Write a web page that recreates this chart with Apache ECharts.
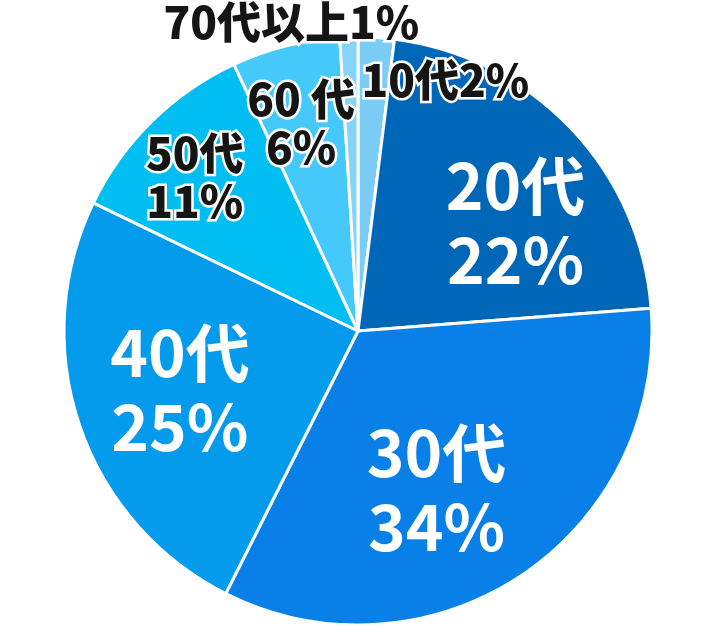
<!DOCTYPE html>
<html>
<head>
<meta charset="utf-8">
<script src="https://cdn.jsdelivr.net/npm/echarts@6/dist/echarts.min.js"></script>
<style>
html,body{margin:0;padding:0;background:#fff;}
#chart{width:720px;height:630px;}
</style>
</head>
<body>
<div id="chart"></div>
<script>
const categories = ['10代', '20代', '30代', '40代', '50代', '60代', '70代以上'];
const percents = [2, 22, 34, 25, 11, 6, 1];
const sliceColors = ['#7ccdf6', '#0066b8', '#0880e8', '#049bec', '#00bdf2', '#45c9fa', '#86d3f8'];

const FONT = '"Noto Sans CJK JP", "Noto Sans CJK SC", sans-serif';
const bigLabel = { color: '#ffffff', fontSize: 64, lineHeight: 74, fontWeight: 'bold', fontFamily: FONT };
const smallLabel = { color: '#151515', fontSize: 44, lineHeight: 48, fontWeight: 900, fontFamily: FONT,
  textBorderColor: '#ffffff', textBorderWidth: 5 };

const labelStyles = [
  Object.assign({ formatter: '{b}{c}%' }, smallLabel),
  Object.assign({ formatter: '{b}\n{c}%' }, bigLabel),
  Object.assign({ formatter: '{b}\n{c}%' }, bigLabel),
  Object.assign({ formatter: '{b}\n{c}%' }, bigLabel),
  Object.assign({ formatter: '{b}\n{c}%' }, smallLabel),
  Object.assign({ formatter: '60 代\n{c}%' }, smallLabel),
  Object.assign({ formatter: '{b}{c}%' }, smallLabel)
];
const labelShift = [[78, -101], [49, -5], [-5, 34], [-36, 11], [-58, -47], [-20, -62], [-62, -159]];

const chart = echarts.init(document.getElementById('chart'), null, { renderer: 'canvas' });
chart.setOption({
  animation: false,
  backgroundColor: '#ffffff',
  series: [{
    type: 'pie',
    center: [358, 331],
    radius: [0, 294],
    startAngle: 90,
    clockwise: true,
    avoidLabelOverlap: false,
    itemStyle: { borderColor: '#ffffff', borderWidth: 3 },
    label: { show: true, position: 'inside' },
    labelLine: { show: false },
    labelLayout: function (p) {
      const s = labelShift[p.dataIndex];
      return { dx: s[0], dy: s[1] };
    },
    data: categories.map((c, i) => ({
      name: c,
      value: percents[i],
      itemStyle: { color: sliceColors[i] },
      label: labelStyles[i]
    }))
  }]
});
</script>
</body>
</html>
